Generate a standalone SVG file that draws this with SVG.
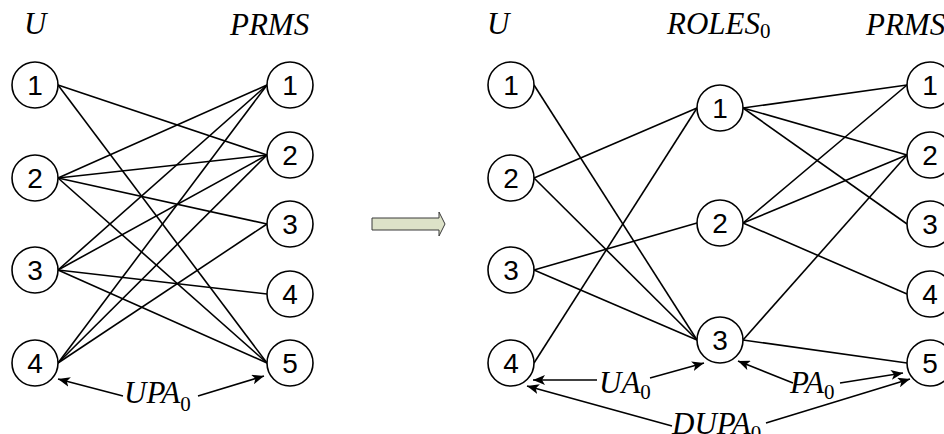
<svg xmlns="http://www.w3.org/2000/svg" width="944" height="434" viewBox="0 0 944 434">
  <style>
    .node circle { fill: #ffffff; stroke: #000000; stroke-width: 1.6; }
    .node text { font-family: "Liberation Sans", Arial, sans-serif; font-size: 28px; text-anchor: middle; fill: #000000; }
    .edge { stroke: #000000; stroke-width: 1.6; fill: none; }
    .arrow { stroke: #000000; stroke-width: 1.6; fill: none; marker-end: url(#head); }
    .label { font-family: "Liberation Serif", "Times New Roman", serif; font-style: italic; font-size: 31px; fill: #000000; }
    .sub { font-style: normal; font-size: 21px; }
  </style>
  <defs>
    <marker id="head" markerUnits="userSpaceOnUse" markerWidth="13" markerHeight="10" refX="12" refY="5" orient="auto">
      <path d="M0,0 L12,5 L0,10 L3,5 Z" fill="#000000"/>
    </marker>
  </defs>
  <rect width="944" height="434" fill="#ffffff"/>

  <!-- column headings -->
  <g id="headings">
    <text class="label" x="24" y="34">U</text>
    <text class="label" x="230" y="35">PRMS</text>
    <text class="label" x="487" y="34">U</text>
    <text class="label" x="667" y="34">ROLES<tspan class="sub" dy="4">0</tspan></text>
    <text class="label" x="866" y="35">PRMS</text>
  </g>

  <!-- connectors -->
  <g id="connectors">
    <!-- left: users to permissions -->
    <line class="edge" x1="58" y1="85" x2="267" y2="155"/>
    <line class="edge" x1="58" y1="85" x2="267" y2="363"/>
    <line class="edge" x1="58" y1="178" x2="267" y2="85"/>
    <line class="edge" x1="58" y1="178" x2="267" y2="155"/>
    <line class="edge" x1="58" y1="178" x2="267" y2="224"/>
    <line class="edge" x1="58" y1="178" x2="267" y2="363"/>
    <line class="edge" x1="58" y1="270" x2="267" y2="85"/>
    <line class="edge" x1="58" y1="270" x2="267" y2="155"/>
    <line class="edge" x1="58" y1="270" x2="267" y2="294"/>
    <line class="edge" x1="58" y1="270" x2="267" y2="363"/>
    <line class="edge" x1="58" y1="363" x2="267" y2="85"/>
    <line class="edge" x1="58" y1="363" x2="267" y2="155"/>
    <line class="edge" x1="58" y1="363" x2="267" y2="224"/>
    <!-- left: UPA0 relation -->
    <line class="arrow" x1="123" y1="396" x2="58" y2="379"/>
    <line class="arrow" x1="198" y1="396" x2="264" y2="376"/>

    <!-- right: users to roles -->
    <line class="edge" x1="534" y1="85" x2="697" y2="340"/>
    <line class="edge" x1="534" y1="178" x2="697" y2="108"/>
    <line class="edge" x1="534" y1="178" x2="697" y2="340"/>
    <line class="edge" x1="534" y1="270" x2="697" y2="223"/>
    <line class="edge" x1="534" y1="270" x2="697" y2="340"/>
    <line class="edge" x1="534" y1="363" x2="697" y2="108"/>
    <!-- right: roles to permissions -->
    <line class="edge" x1="743" y1="108" x2="907" y2="85"/>
    <line class="edge" x1="743" y1="108" x2="907" y2="155"/>
    <line class="edge" x1="743" y1="108" x2="907" y2="224"/>
    <line class="edge" x1="743" y1="223" x2="907" y2="85"/>
    <line class="edge" x1="743" y1="223" x2="907" y2="155"/>
    <line class="edge" x1="743" y1="223" x2="907" y2="294"/>
    <line class="edge" x1="743" y1="340" x2="907" y2="155"/>
    <line class="edge" x1="743" y1="340" x2="907" y2="363"/>
    <!-- right: UA0, PA0, DUPA0 relations -->
    <line class="arrow" x1="597" y1="380" x2="533" y2="380"/>
    <line class="arrow" x1="650" y1="378" x2="704" y2="363"/>
    <line class="arrow" x1="793" y1="383" x2="738" y2="361"/>
    <line class="arrow" x1="840" y1="383" x2="903" y2="373"/>
    <line class="arrow" x1="672" y1="426" x2="527" y2="386"/>
    <line class="arrow" x1="766" y1="423" x2="910" y2="379"/>
  </g>

  <!-- relation labels -->
  <g id="relation-labels">
    <text class="label" x="124" y="403">UPA<tspan class="sub" dy="8">0</tspan></text>
    <text class="label" x="599" y="393">UA<tspan class="sub" dy="6">0</tspan></text>
    <text class="label" x="790" y="393">PA<tspan class="sub" dy="6">0</tspan></text>
    <text class="label" x="672" y="434">DUPA<tspan class="sub" dy="6">0</tspan></text>
  </g>

  <!-- transformation arrow -->
  <g id="transform-arrow">
    <path d="M372,218 H439 V212 L445,224 L439,236 V230 H372 Z" fill="#dde2c8" stroke="#3a3a3a" stroke-width="1"/>
  </g>

  <!-- left graph: users -->
  <g id="L-U1" class="node"><circle cx="35" cy="85" r="23"/><text x="35" y="95">1</text></g>
  <g id="L-U2" class="node"><circle cx="35" cy="178" r="23"/><text x="35" y="188">2</text></g>
  <g id="L-U3" class="node"><circle cx="35" cy="270" r="23"/><text x="35" y="280">3</text></g>
  <g id="L-U4" class="node"><circle cx="35" cy="363" r="23"/><text x="35" y="373">4</text></g>
  <!-- left graph: permissions -->
  <g id="L-P1" class="node"><circle cx="290" cy="85" r="23"/><text x="290" y="95">1</text></g>
  <g id="L-P2" class="node"><circle cx="290" cy="155" r="23"/><text x="290" y="165">2</text></g>
  <g id="L-P3" class="node"><circle cx="290" cy="224" r="23"/><text x="290" y="234">3</text></g>
  <g id="L-P4" class="node"><circle cx="290" cy="294" r="23"/><text x="290" y="304">4</text></g>
  <g id="L-P5" class="node"><circle cx="290" cy="363" r="23"/><text x="290" y="373">5</text></g>

  <!-- right graph: users -->
  <g id="R-U1" class="node"><circle cx="511" cy="85" r="23"/><text x="511" y="95">1</text></g>
  <g id="R-U2" class="node"><circle cx="511" cy="178" r="23"/><text x="511" y="188">2</text></g>
  <g id="R-U3" class="node"><circle cx="511" cy="270" r="23"/><text x="511" y="280">3</text></g>
  <g id="R-U4" class="node"><circle cx="511" cy="363" r="23"/><text x="511" y="373">4</text></g>
  <!-- right graph: roles -->
  <g id="R-R1" class="node"><circle cx="720" cy="108" r="23"/><text x="720" y="118">1</text></g>
  <g id="R-R2" class="node"><circle cx="720" cy="223" r="23"/><text x="720" y="233">2</text></g>
  <g id="R-R3" class="node"><circle cx="720" cy="340" r="23"/><text x="720" y="350">3</text></g>
  <!-- right graph: permissions -->
  <g id="R-P1" class="node"><circle cx="930" cy="85" r="23"/><text x="930" y="95">1</text></g>
  <g id="R-P2" class="node"><circle cx="930" cy="155" r="23"/><text x="930" y="165">2</text></g>
  <g id="R-P3" class="node"><circle cx="930" cy="224" r="23"/><text x="930" y="234">3</text></g>
  <g id="R-P4" class="node"><circle cx="930" cy="294" r="23"/><text x="930" y="304">4</text></g>
  <g id="R-P5" class="node"><circle cx="930" cy="363" r="23"/><text x="930" y="373">5</text></g>
</svg>
